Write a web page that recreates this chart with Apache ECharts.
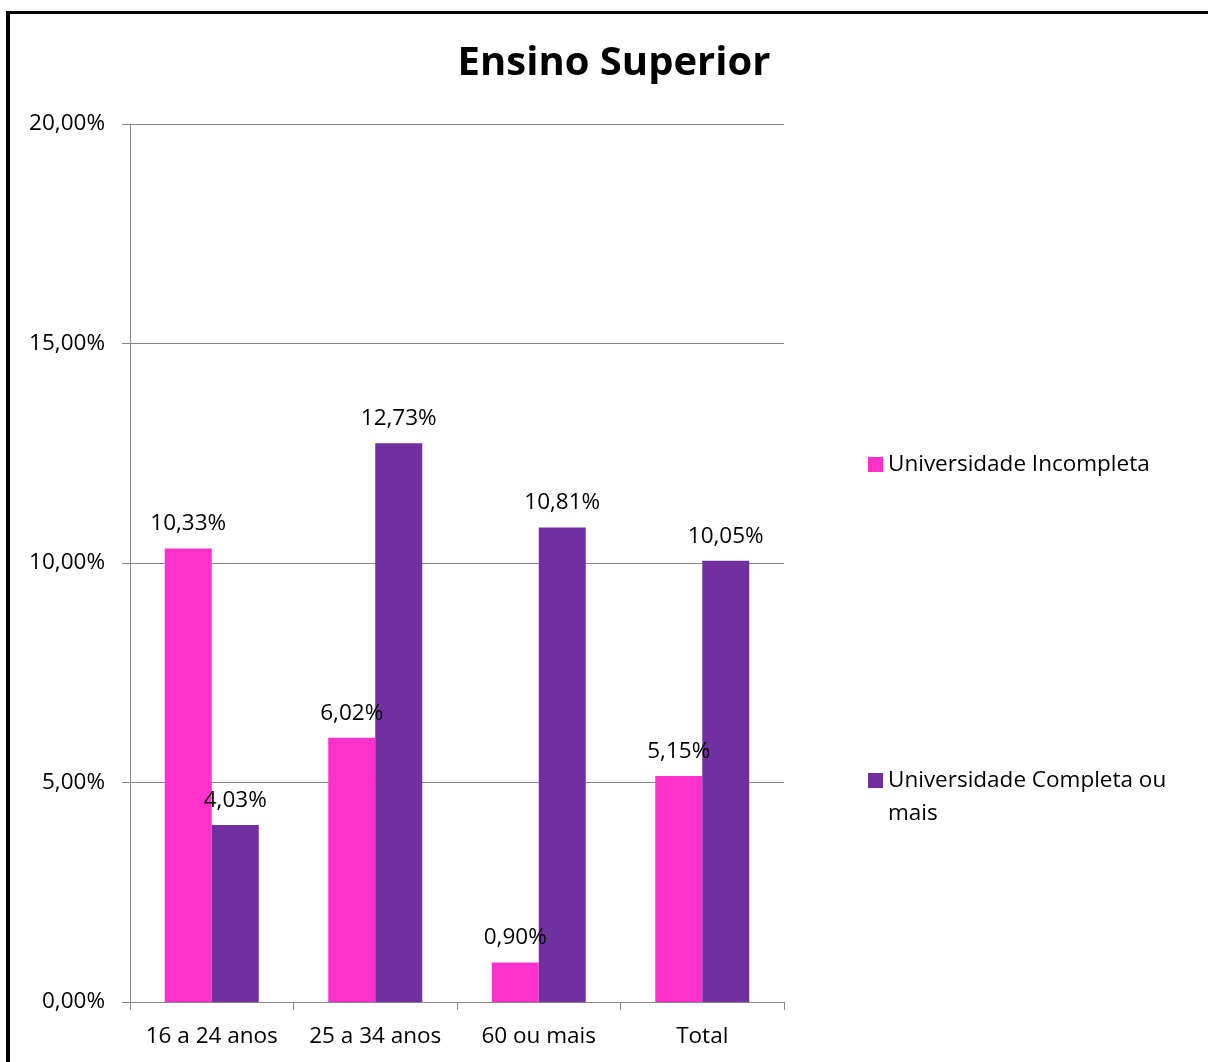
<!DOCTYPE html>
<html>
<head>
<meta charset="utf-8">
<script src="https://cdn.jsdelivr.net/npm/echarts@6/dist/echarts.min.js"></script>
<style>
html,body{margin:0;padding:0;background:#fff;overflow:hidden;}
#frame{position:absolute;left:6px;top:11px;width:1400px;height:1200px;border-top:3px solid #000;border-left:4px solid #000;box-sizing:border-box;}
#chart{position:absolute;left:0;top:0;width:1208px;height:1062px;}
</style>
</head>
<body>
<div id="frame"></div>
<div id="chart"></div>
<script>
const categories = ['16 a 24 anos', '25 a 34 anos', '60 ou mais', 'Total'];
const seriesNames = ['Universidade Incompleta', 'Universidade Completa ou mais'];
const incompleta = [10.33, 6.02, 0.90, 5.15];
const completa = [4.03, 12.73, 10.81, 10.05];
const yTicks = [0, 5, 10, 15, 20];

const FONT = '"Open Sans", "Liberation Sans", sans-serif';
const FS = 22.5;
const fmt = v => v.toFixed(2).replace('.', ',') + '%';

const chart = echarts.init(document.getElementById('chart'), null, {renderer: 'canvas'});
chart.setOption({
  animation: false,
  backgroundColor: 'transparent',
  textStyle: {fontFamily: FONT},
  title: {
    text: 'Ensino Superior',
    left: 609, top: 39, textAlign: 'center',
    textStyle: {fontFamily: FONT, fontSize: 40, fontWeight: 'bold', color: '#000'}
  },
  legend: [
    {
      data: [seriesNames[0]],
      orient: 'vertical', left: 863, top: 443,
      itemWidth: 15, itemHeight: 15, icon: 'rect', itemGap: 0,
      textStyle: {fontFamily: FONT, fontSize: FS, color: '#000', lineHeight: 33},
      selectedMode: false
    },
    {
      data: [seriesNames[1]],
      orient: 'vertical', left: 863, top: 726,
      itemWidth: 15, itemHeight: 15, icon: 'rect', itemGap: 0,
      formatter: n => '\nUniversidade Completa ou\nmais',
      textStyle: {fontFamily: FONT, fontSize: FS, color: '#000', lineHeight: 33},
      selectedMode: false
    }
  ],
  grid: {left: 130, right: 424, top: 124, bottom: 60, containLabel: false},
  xAxis: {
    type: 'category',
    data: categories,
    axisLine: {lineStyle: {color: '#868686', width: 1}},
    axisTick: {show: true, length: 8, lineStyle: {color: '#868686'}},
    axisLabel: {fontFamily: FONT, fontSize: FS, color: '#000', margin: 23, interval: 0}
  },
  yAxis: {
    type: 'value',
    min: yTicks[0], max: yTicks[yTicks.length - 1], interval: 5,
    axisLine: {show: true, lineStyle: {color: '#868686', width: 1}},
    axisTick: {show: true, length: 8, lineStyle: {color: '#868686'}},
    splitLine: {lineStyle: {color: '#868686', width: 1}},
    axisLabel: {fontFamily: FONT, fontSize: FS, color: '#000', margin: 25, formatter: v => fmt(v)}
  },
  series: [
    {
      name: seriesNames[0], type: 'bar', data: incompleta,
      itemStyle: {color: '#FF33CC'},
      barWidth: 47, barGap: '0%',
      label: {show: true, position: 'top', distance: 13, fontFamily: FONT, fontSize: FS, color: '#000', formatter: p => fmt(p.value)}
    },
    {
      name: seriesNames[1], type: 'bar', data: completa,
      itemStyle: {color: '#7030A0'},
      barWidth: 47, barGap: '0%',
      label: {show: true, position: 'top', distance: 13, fontFamily: FONT, fontSize: FS, color: '#000', formatter: p => fmt(p.value)}
    }
  ]
});
</script>
</body>
</html>
